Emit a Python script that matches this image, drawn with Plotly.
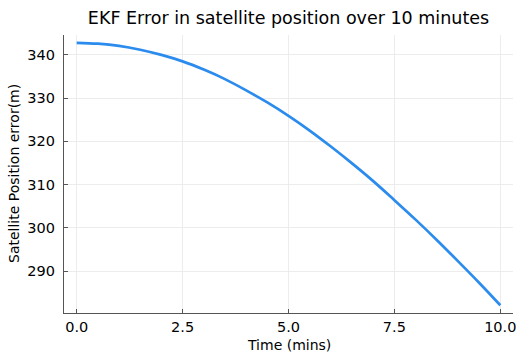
import plotly.graph_objects as go

# Time in minutes and EKF satellite position error (m)
time_mins = [0.0, 0.5, 1.0, 1.5, 2.0, 2.5, 3.0, 3.5, 4.0, 4.5, 5.0,
             5.5, 6.0, 6.5, 7.0, 7.5, 8.0, 8.5, 9.0, 9.5, 10.0]
pos_error = [342.8, 342.6, 342.1, 341.2, 340.0, 338.5, 336.6, 334.4, 331.8, 329.0, 325.9,
             322.5, 318.8, 314.9, 310.8, 306.4, 301.9, 297.2, 292.3, 287.3, 282.1]

x_tick_vals = [0.0, 2.5, 5.0, 7.5, 10.0]
x_tick_text = ["0.0", "2.5", "5.0", "7.5", "10.0"]
y_tick_vals = [290, 300, 310, 320, 330, 340]

FONT = "DejaVu Sans"
AXIS_COL = "#555555"
GRID_COL = "#ececec"
LINE_COL = "#2b8cee"
W, H = 516, 354
ML, MR, MT, MB = 64, 3, 35, 41

fig = go.Figure()
fig.add_trace(go.Scatter(
    x=time_mins, y=pos_error, mode="lines",
    line=dict(color=LINE_COL, width=2.7, shape="spline"),
    showlegend=False,
))

fig.update_layout(
    width=W, height=H,
    margin=dict(l=ML, r=MR, t=MT, b=MB, autoexpand=False),
    paper_bgcolor="white", plot_bgcolor="white",
    font=dict(family=FONT, color="black"),
    title=dict(text="EKF Error in satellite position over 10 minutes",
               font=dict(family=FONT, size=17.5, color="black"),
               x=0.5, xref="paper", y=1 - 18 / H, yref="container",
               xanchor="center", yanchor="middle"),
    annotations=[
        dict(text="Time (mins)", xref="paper", yref="paper", x=0.5,
             y=-(345 - (H - MB)) / (H - MT - MB), xanchor="center", yanchor="middle",
             showarrow=False, font=dict(family=FONT, size=14, color="black")),
        dict(text="Satellite Position error(m)", xref="paper", yref="paper",
             x=-(ML - 14) / (W - ML - MR), y=0.5, xanchor="center", yanchor="middle",
             textangle=-90, showarrow=False,
             font=dict(family=FONT, size=14, color="black")),
    ],
)

fig.update_xaxes(
    range=[-0.3, 10.3], tickvals=x_tick_vals, ticktext=x_tick_text,
    automargin=False, ticklabeloverflow="allow",
    showgrid=True, gridcolor=GRID_COL, gridwidth=1,
    showline=True, linecolor=AXIS_COL, linewidth=1.2, mirror=False,
    ticks="inside", ticklen=4, tickcolor=AXIS_COL, tickwidth=1,
    tickfont=dict(family=FONT, size=14.5, color="black"),
    zeroline=False,
)
fig.update_yaxes(
    range=[280.3, 344.6], tickvals=y_tick_vals,
    automargin=False, ticklabeloverflow="allow",
    showgrid=True, gridcolor=GRID_COL, gridwidth=1,
    showline=True, linecolor=AXIS_COL, linewidth=1.2, mirror=False,
    ticks="inside", ticklen=4, tickcolor=AXIS_COL, tickwidth=1,
    tickfont=dict(family=FONT, size=14.5, color="black"),
    ticklabelstandoff=5,
    zeroline=False,
)

fig.write_html("out.html", config={"displayModeBar": False},
               post_script="document.body.style.margin='0';document.body.style.padding='0';")
